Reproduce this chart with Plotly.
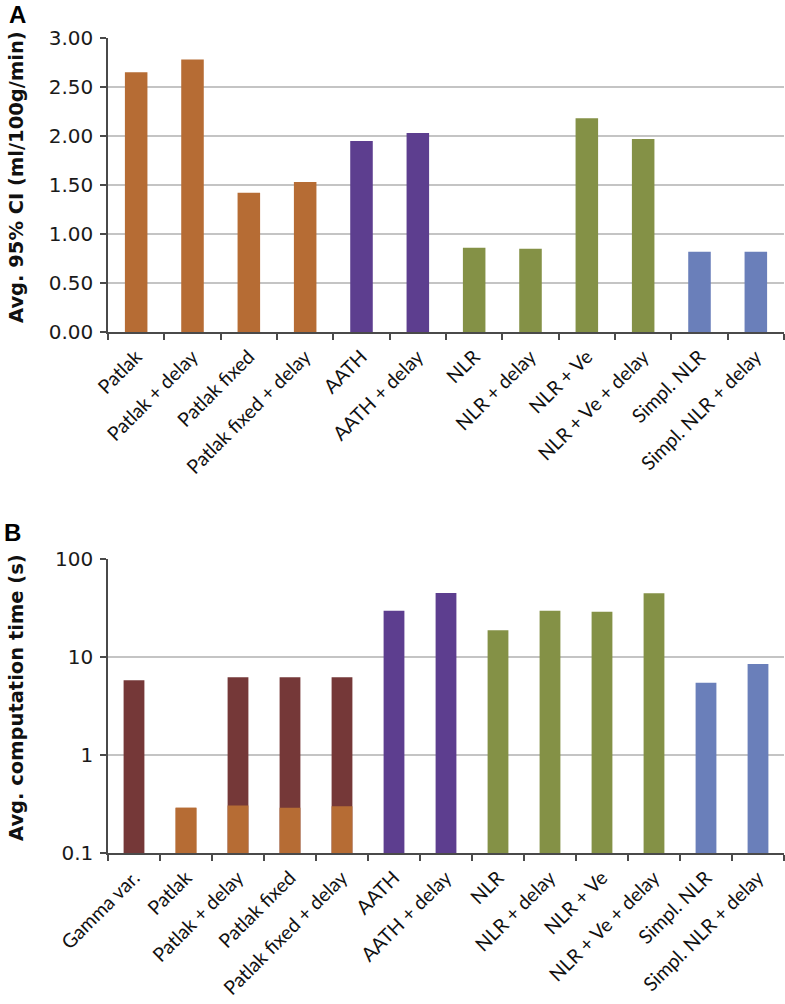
import plotly.graph_objects as go

# ---------------- data ----------------
categories_a = ["Patlak", "Patlak + delay", "Patlak fixed", "Patlak fixed + delay",
                "AATH", "AATH + delay", "NLR", "NLR + delay", "NLR + Ve",
                "NLR + Ve + delay", "Simpl. NLR", "Simpl. NLR + delay"]
ci_values = [2.65, 2.78, 1.42, 1.53, 1.95, 2.03, 0.86, 0.85, 2.18, 1.97, 0.82, 0.82]

categories_b = ["Gamma var.", "Patlak", "Patlak + delay", "Patlak fixed",
                "Patlak fixed + delay", "AATH", "AATH + delay", "NLR", "NLR + delay",
                "NLR + Ve", "NLR + Ve + delay", "Simpl. NLR", "Simpl. NLR + delay"]
time_total = [5.8, 0.29, 6.2, 6.2, 6.2, 29.6, 45, 18.8, 29.6, 28.9, 44.6, 5.45, 8.5]
time_patlak_part = [None, 0.29, 0.305, 0.29, 0.30, None, None, None, None, None, None, None, None]

groups_a = ["patlak"] * 4 + ["aath"] * 2 + ["nlr"] * 4 + ["simpl"] * 2
groups_b = ["gamma", "patlak", "gamma", "gamma", "gamma"] + ["aath"] * 2 + ["nlr"] * 4 + ["simpl"] * 2

# ---------------- style ----------------
COL = {"patlak": "#B66C34", "aath": "#5D3E8F", "nlr": "#849146",
       "simpl": "#6A7FBA", "gamma": "#753838"}
W, H = 785, 1004


def px_x(v):
    return v / W


def px_y(v):
    return 1 - v / H


x0, x1 = px_x(108), px_x(784)
dom_a = [px_y(332), px_y(38)]
dom_b = [px_y(853), px_y(559)]

fig = go.Figure()
fig.add_trace(go.Bar(x=categories_a, y=ci_values, xaxis="x", yaxis="y",
                     marker=dict(color=[COL[g] for g in groups_a], line=dict(width=0)),
                     showlegend=False))
fig.add_trace(go.Bar(x=categories_b, y=time_total, xaxis="x2", yaxis="y2",
                     marker=dict(color=[COL[g] for g in groups_b], line=dict(width=0)),
                     showlegend=False))
fig.add_trace(go.Bar(x=categories_b, y=time_patlak_part, xaxis="x2", yaxis="y2",
                     marker=dict(color=COL["patlak"], line=dict(width=0)),
                     showlegend=False))

tick_font = dict(family="Lato, 'Open Sans', sans-serif", size=19.5, color="#111")
ytick_font = dict(family="DejaVu Sans, sans-serif", size=20, color="#1a1a1a")
axis_line = "#4a4a4a"
grid = "#c4c4c4"

common_x = dict(type="category", tickangle=-45, tickfont=tick_font, showline=True,
                linecolor=axis_line, linewidth=1.5, ticks="outside", ticklen=6,
                tickcolor=axis_line, tickwidth=1.5, tickson="boundaries",
                showgrid=False, automargin=False, domain=[x0, x1],
                ticklabelstandoff=4)
common_y = dict(tickfont=ytick_font, showline=True, linecolor=axis_line, linewidth=1.5,
                ticks="outside", ticklen=6, tickcolor=axis_line, tickwidth=1.5,
                showgrid=True, gridcolor=grid, gridwidth=1.5, zeroline=False,
                automargin=False, ticklabelstandoff=3)

fig.update_layout(
    width=W, height=H, margin=dict(l=0, r=0, t=0, b=0),
    paper_bgcolor="white", plot_bgcolor="white",
    barmode="overlay", bargap=0.6,
    xaxis=dict(**common_x, anchor="y"),
    yaxis=dict(**common_y, domain=dom_a, range=[0, 3], dtick=0.5, tickformat=".2f",
               anchor="x"),
    xaxis2=dict(**common_x, anchor="y2"),
    yaxis2=dict(**common_y, domain=dom_b, type="log", range=[-1, 2], dtick=1,
                anchor="x2"),
)

title_font = dict(family="DejaVu Sans, sans-serif", size=19.5, color="#111")
fig.add_annotation(text="<b>Avg. 95% CI (ml/100g/min)</b>", xref="paper", yref="paper",
                   x=px_x(16), y=px_y(177), xanchor="center", yanchor="middle",
                   textangle=-90, showarrow=False, font=title_font)
fig.add_annotation(text="<b>Avg. computation time (s)</b>", xref="paper", yref="paper",
                   x=px_x(16), y=px_y(698), xanchor="center", yanchor="middle",
                   textangle=-90, showarrow=False, font=title_font)
letter_font = dict(family="Liberation Sans, Arial, sans-serif", size=24, color="#000")
fig.add_annotation(text="<b>A</b>", xref="paper", yref="paper", x=px_x(17), y=1,
                   xanchor="center", yanchor="top", showarrow=False, font=letter_font,
                   borderpad=0)
fig.add_annotation(text="<b>B</b>", xref="paper", yref="paper", x=px_x(12), y=px_y(532),
                   xanchor="center", yanchor="middle", showarrow=False, font=letter_font)

fig.write_html("out.html", config={"displayModeBar": False},
               post_script="document.body.style.margin='0';")
